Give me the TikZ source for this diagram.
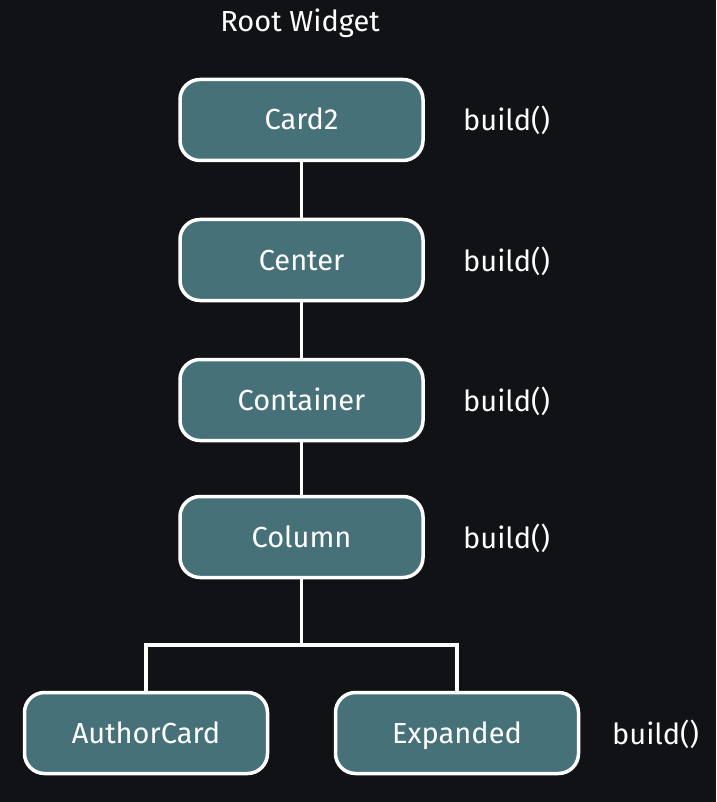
\documentclass[tikz,border=0pt]{standalone}
\usepackage{fontspec}
\setmainfont{Fira Sans}
\definecolor{bg}{HTML}{111216}
\definecolor{boxfill}{HTML}{477179}
\tikzset{
  txt/.style={text=white, font=\fontsize{29}{32}\selectfont, inner sep=0pt,
    text height=20pt, text depth=0pt},
  wbox/.style={txt, draw=white, line width=3.5pt, fill=boxfill, rounded corners=20pt,
    minimum width=243pt, minimum height=81pt},
  lbl/.style={txt, anchor=west},
  conn/.style={draw=white, line width=3.5pt},
}
\begin{document}
\begin{tikzpicture}[x=1pt,y=-1pt]
\fill[bg] (0,0) rectangle (716,802);
\useasboundingbox (0,0) rectangle (716,802);
\node[txt] (root) at (300,22) {Root Widget};
\node[wbox] (card) at (301.5,120) {Card2};
\node[wbox] (center) at (301.5,260) {Center};
\node[wbox] (container) at (301.5,400) {Container};
\node[wbox] (column) at (301.5,537) {Column};
\node[wbox] (author) at (146,733) {AuthorCard};
\node[wbox] (expanded) at (457,733) {Expanded};
\node[lbl] (b1) at (463,121) {build()};
\node[lbl] (b2) at (463,261) {build()};
\node[lbl] (b3) at (463,401) {build()};
\node[lbl] (b4) at (463,538) {build()};
\node[lbl] (b5) at (612,734) {build()};
\coordinate (split) at (301.5,645);
\draw[conn] (card.south) -- (center.north);
\draw[conn] (center.south) -- (container.north);
\draw[conn] (container.south) -- (column.north);
\draw[conn] (column.south) -- (split);
\draw[conn] (split) -| (author.north);
\draw[conn] (split) -| (expanded.north);
\end{tikzpicture}
\end{document}
